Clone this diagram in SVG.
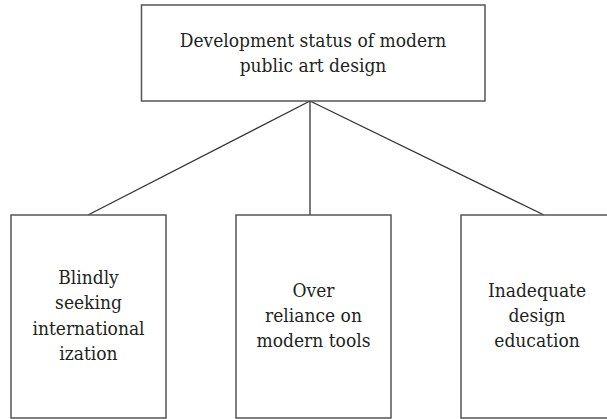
<svg xmlns="http://www.w3.org/2000/svg" width="607" height="419" viewBox="0 0 607 419">
<style>
.box{fill:#fff;stroke:#555;stroke-width:1.5}
text{font-family:'DejaVu Serif Condensed','DejaVu Serif',serif;font-stretch:condensed;font-size:19px;fill:#231f20;text-anchor:middle}
.con{stroke:#333;stroke-width:1.3;fill:none}
</style>
<rect width="607" height="419" fill="#fff"/>
<g id="connectors">
<line class="con" x1="310" y1="101" x2="88" y2="215"/>
<line class="con" x1="310" y1="101" x2="310" y2="215"/>
<line class="con" x1="310" y1="101" x2="544" y2="215"/>
</g>
<g id="root">
<rect class="box" x="141.5" y="5" width="343.5" height="96"/>
<text x="313" y="47">Development status of modern</text>
<text x="313" y="72">public art design</text>
</g>
<g id="n1">
<rect class="box" x="11" y="215" width="155" height="203"/>
<text x="88.5" y="284">Blindly</text>
<text x="88.5" y="309">seeking</text>
<text x="88.5" y="335">international</text>
<text x="88.5" y="360">ization</text>
</g>
<g id="n2">
<rect class="box" x="236" y="215" width="155" height="203"/>
<text x="313.5" y="297">Over</text>
<text x="313.5" y="322">reliance on</text>
<text x="313.5" y="347">modern tools</text>
</g>
<g id="n3">
<rect class="box" x="461" y="215" width="155" height="203"/>
<text x="537" y="297">Inadequate</text>
<text x="537" y="322">design</text>
<text x="537" y="347">education</text>
</g>
</svg>
